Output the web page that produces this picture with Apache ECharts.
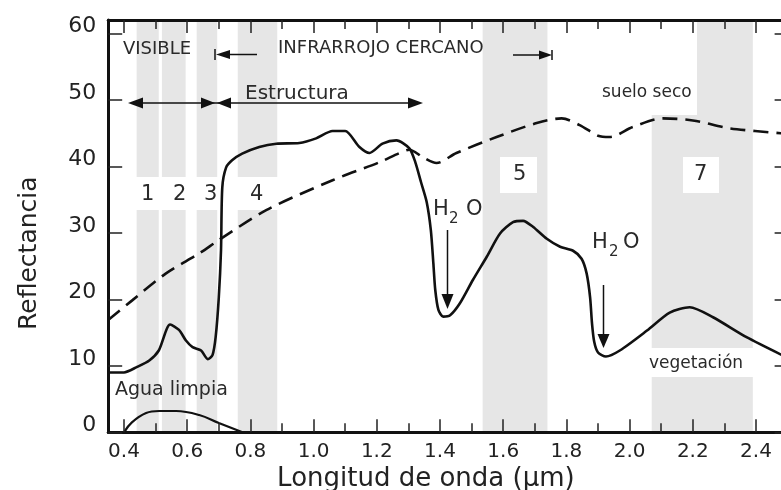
<!DOCTYPE html>
<html>
<head>
<meta charset="utf-8">
<script src="https://cdn.jsdelivr.net/npm/echarts@6/dist/echarts.min.js"></script>
<style>
html,body{margin:0;padding:0;background:#fff;}
#chart{width:781px;height:490px;}
</style>
</head>
<body>
<div id="chart"></div>
<script>
// ---- data ----
const xMajorTicks = [0.4, 0.6, 0.8, 1.0, 1.2, 1.4, 1.6, 1.8, 2.0, 2.2, 2.4];
const xMinorTicks = [0.5, 0.7, 0.9, 1.1, 1.3, 1.5, 1.7, 1.9, 2.1, 2.3];
const yTicks = [0, 10, 20, 30, 40, 50, 60];

// TM band ranges (µm)
const bandRanges = [[0.44, 0.51], [0.52, 0.595], [0.63, 0.695], [0.76, 0.885], [1.535, 1.74], [2.07, 2.39]];

// vegetation reflectance [wavelength µm, %]
const vegetation = [
  [0.35, 9.0], [0.4, 9.0], [0.44, 9.8], [0.48, 10.8], [0.51, 12.3], [0.546, 16.2], [0.574, 15.4],
  [0.596, 13.8], [0.617, 12.8], [0.644, 12.3], [0.665, 11.0], [0.68, 11.6], [0.69, 14.3],
  [0.70, 20.3], [0.707, 27.4], [0.711, 36.8], [0.723, 39.8], [0.742, 40.9], [0.774, 41.9],
  [0.828, 42.9], [0.882, 43.4], [0.955, 43.5], [1.008, 44.2], [1.06, 45.3], [1.10, 45.3],
  [1.145, 42.9], [1.177, 42.0], [1.218, 43.4], [1.262, 43.9], [1.303, 42.7], [1.322, 40.6],
  [1.34, 37.6], [1.358, 34.6], [1.371, 30.4], [1.379, 25.4], [1.385, 21.4], [1.395, 18.4],
  [1.41, 17.4], [1.432, 17.6], [1.463, 19.4], [1.504, 22.9], [1.548, 26.4], [1.59, 29.9],
  [1.631, 31.6], [1.663, 31.8], [1.694, 30.9], [1.738, 29.1], [1.78, 27.9], [1.821, 27.3],
  [1.848, 26.1], [1.864, 23.9], [1.875, 20.3], [1.881, 16.4], [1.888, 13.6], [1.90, 12.0],
  [1.925, 11.4], [1.969, 12.3], [2.055, 15.3], [2.127, 18.0], [2.19, 18.8], [2.264, 17.3],
  [2.37, 14.3], [2.5, 11.2]
];

// dry soil reflectance
const drySoil = [
  [0.35, 16.9], [0.425, 19.8], [0.533, 23.9], [0.638, 26.9], [0.70, 28.9], [0.85, 33.4],
  [1.06, 37.9], [1.208, 40.6], [1.272, 42.0], [1.303, 42.5], [1.345, 41.4], [1.389, 40.5],
  [1.452, 42.0], [1.579, 44.4], [1.706, 46.5], [1.785, 47.2], [1.842, 46.2], [1.90, 44.6],
  [1.937, 44.4], [2.01, 45.9], [2.105, 47.2], [2.20, 46.9], [2.318, 45.7], [2.5, 44.9]
];

// clear water reflectance
const clearWater = [
  [0.4, 0.0], [0.425, 1.5], [0.47, 2.9], [0.511, 3.2], [0.565, 3.2], [0.638, 2.6], [0.70, 1.4], [0.775, 0.0]
];

// ---- chart ----
const FONT = '"DejaVu Sans", sans-serif';
const X_MIN = 0.35, X_MAX = 2.5, Y_MIN = 0, Y_MAX = 62;
const INK = '#222';

function xAxisDef(opts) {
  return Object.assign({
    type: 'value', min: X_MIN, max: X_MAX, z: 5,
    axisLine: { show: true, lineStyle: { color: '#111', width: 3 } },
    splitLine: { show: false },
    axisLabel: { show: false },
    axisTick: { show: true, inside: true, length: 13, lineStyle: { color: INK, width: 1.5 } }
  }, opts);
}

const chart = echarts.init(document.getElementById('chart'), null, { renderer: 'canvas' });

function txt(text, x, y, size, extra) {
  return Object.assign({
    type: 'text', x: x, y: y, z: 10, silent: true,
    style: {
      text: text, fill: '#2a2a2a', font: size + 'px ' + FONT,
      fontSize: size, fontFamily: FONT,
      align: 'left', verticalAlign: 'middle', textAlign: 'left', textVerticalAlign: 'middle'
    }
  }, extra || {});
}
function rect(x, y, w, h) {
  return { type: 'rect', z: 2, silent: true, shape: { x: x, y: y, width: w, height: h }, style: { fill: '#fff' } };
}
function seg(x1, y1, x2, y2, w) {
  return { type: 'line', z: 10, silent: true, shape: { x1: x1, y1: y1, x2: x2, y2: y2 }, style: { stroke: '#111', lineWidth: w || 1.5 } };
}
function head(points) {
  return { type: 'polygon', z: 10, silent: true, shape: { points: points }, style: { fill: '#111' } };
}

const graphics = [
  // white label boxes
  rect(136, 177, 142, 33),
  rect(500, 157, 37, 36),
  rect(683, 157, 36, 36),
  rect(596, 21, 101, 94),
  rect(650, 348, 103, 29),
  // band numbers
  txt('1', 141, 195, 21), txt('2', 173, 195, 21), txt('3', 204, 195, 21), txt('4', 250, 195, 21),
  txt('5', 513, 175, 21), txt('7', 694, 175, 21),
  // region labels
  txt('VISIBLE', 123, 49, 18),
  txt('INFRARROJO CERCANO', 278, 48, 18),
  txt('Estructura', 245, 94, 20),
  txt('suelo seco', 602, 93, 17),
  txt('vegetación', 649, 364, 17),
  txt('Agua limpia', 115, 390, 19),
  // H2O labels
  txt('H', 433, 210, 21), txt('2', 449, 219, 15), txt('O', 466, 210, 21),
  txt('H', 592, 243, 21), txt('2', 609, 252, 15), txt('O', 623, 243, 21),
  // VISIBLE limit marker
  seg(215, 49, 215, 60), head([[216, 54.5], [230, 50], [230, 59]]), seg(228, 54.5, 257, 54.5),
  // INFRARROJO limit marker
  seg(513, 55, 541, 55), head([[552, 55], [539, 50.5], [539, 59.5]]), seg(552, 50, 552, 60),
  // Estructura / visible arrows
  seg(140, 103, 410, 103),
  head([[128, 103], [143, 97.5], [143, 108.5]]),
  head([[215, 103], [201, 97.5], [201, 108.5]]),
  head([[217, 103], [231, 97.5], [231, 108.5]]),
  head([[423, 103], [408, 97.5], [408, 108.5]]),
  // H2O arrows
  seg(447.5, 230, 447.5, 298), head([[447.5, 309], [441.5, 294], [453.5, 294]]),
  seg(603.5, 285, 603.5, 336), head([[603.5, 348], [597.5, 334], [609.5, 334]])
];

const option = {
  animation: false,
  backgroundColor: '#fff',
  grid: { left: 108.2, right: -6.6, top: 20, bottom: 57.7, containLabel: false, outerBoundsMode: 'none' },
  xAxis: [
    xAxisDef({
      position: 'bottom',
      name: 'Longitud de onda (µm)', nameLocation: 'middle', nameGap: 28,
      nameTextStyle: { fontFamily: FONT, fontSize: 26, color: INK, padding: [0, 44, 0, 0] },
      axisLabel: {
        show: true, customValues: xMajorTicks, margin: 9,
        fontFamily: FONT, fontSize: 20, color: INK,
        formatter: v => Number(v).toFixed(1)
      },
      axisTick: { show: true, inside: true, length: 13, customValues: xMajorTicks, lineStyle: { color: INK, width: 1.5 } }
    }),
    xAxisDef({
      position: 'bottom', axisLine: { show: false },
      axisTick: { show: true, inside: true, length: 9, customValues: xMinorTicks, lineStyle: { color: INK, width: 1.5 } }
    }),
    xAxisDef({
      position: 'top',
      axisTick: { show: true, inside: true, length: 13, customValues: xMajorTicks, lineStyle: { color: INK, width: 1.5 } }
    }),
    xAxisDef({
      position: 'top', axisLine: { show: false },
      axisTick: { show: true, inside: true, length: 9, customValues: xMinorTicks, lineStyle: { color: INK, width: 1.5 } }
    })
  ],
  yAxis: [
    {
      type: 'value', min: Y_MIN, max: Y_MAX, position: 'left', z: 5,
      name: 'Reflectancia', nameLocation: 'middle', nameGap: 66,
      nameTextStyle: { fontFamily: FONT, fontSize: 25, color: INK, padding: [0, 54, 0, 0] },
      axisLine: { show: true, lineStyle: { color: '#111', width: 3 } },
      splitLine: { show: false },
      axisTick: { show: true, inside: true, length: 14, customValues: yTicks, lineStyle: { color: INK, width: 1.5 } },
      axisLabel: { show: true, customValues: yTicks, margin: 12, fontFamily: FONT, fontSize: 22, color: INK, verticalAlign: 'bottom', lineHeight: 14 }
    },
    {
      type: 'value', min: Y_MIN, max: Y_MAX, position: 'right', z: 5,
      axisLine: { show: false },
      splitLine: { show: false },
      axisLabel: { show: false },
      axisTick: { show: true, inside: true, length: 13, customValues: yTicks, lineStyle: { color: INK, width: 1.5 } }
    }
  ],
  series: [
    {
      type: 'custom', name: 'bandas', z: 1, silent: true,
      xAxisIndex: 0, yAxisIndex: 0,
      encode: { x: [0, 1] },
      data: bandRanges,
      renderItem: function (params, api) {
        const p0 = api.coord([api.value(0), Y_MAX]);
        const p1 = api.coord([api.value(1), Y_MIN]);
        return { type: 'rect', shape: { x: p0[0], y: p0[1], width: p1[0] - p0[0], height: p1[1] - p0[1] }, style: { fill: '#e6e6e6' } };
      }
    },
    {
      type: 'line', name: 'vegetación', z: 3, data: vegetation, showSymbol: false, silent: true,
      smooth: 0.25,
      lineStyle: { color: '#111', width: 2.6 }
    },
    {
      type: 'line', name: 'suelo seco', z: 3, data: drySoil, showSymbol: false, silent: true,
      smooth: 0.3,
      lineStyle: { color: '#111', width: 2.6, type: [15, 8] }
    },
    {
      type: 'line', name: 'Agua limpia', z: 3, data: clearWater, showSymbol: false, silent: true,
      smooth: 0.4,
      lineStyle: { color: '#111', width: 2.2 }
    }
  ],
  graphic: { elements: graphics }
};

chart.setOption(option);
</script>
</body>
</html>
